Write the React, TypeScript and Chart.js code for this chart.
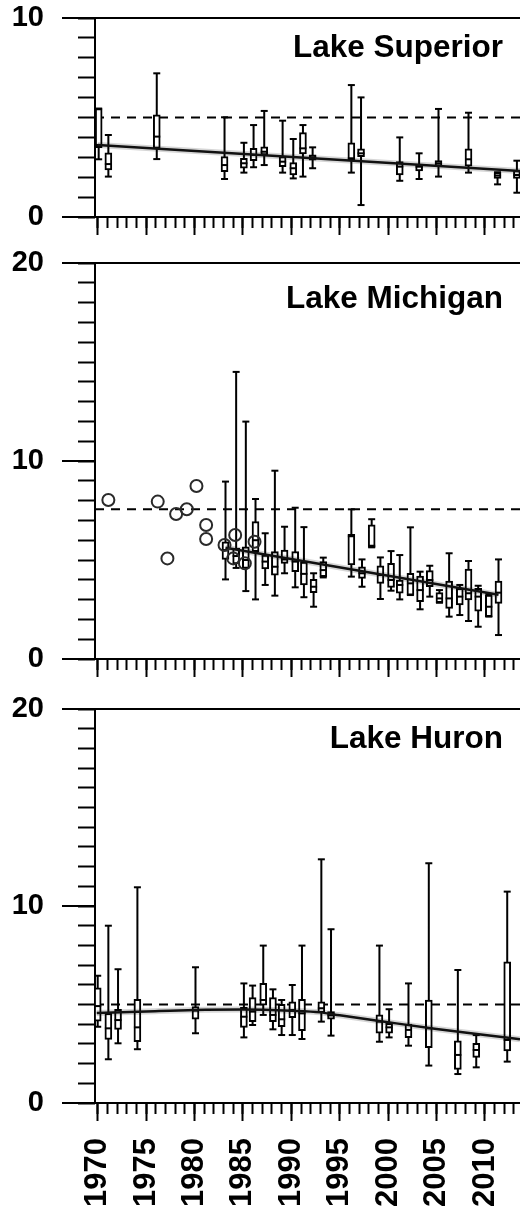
import React, { useEffect, useRef } from 'react';
import { Chart, registerables } from 'chart.js';

Chart.register(...registerables);

const FONT = '"Liberation Sans", Arial, Helvetica, sans-serif';

// Shared time axis (years)
const YEAR_MIN = 1969.72;
const YEAR_MAX = 2013.62;
const YEAR_MAJOR_STEP = 5;
const YEAR_MINOR_STEP = 1;

// ---- Lake Superior: annual box summaries (whisker low, Q1, median, Q3, whisker high)
const SUP_YEAR = [1970.1, 1971.1, 1976.1, 1983.1, 1985.1, 1986.1, 1987.2, 1989.1, 1990.2, 1991.2, 1992.2, 1996.2, 1997.2, 2001.2, 2003.2, 2005.2, 2008.3, 2011.3, 2013.3];
const SUP_LO = [2.9, 2.03, 2.91, 1.91, 2.23, 2.5, 2.61, 2.23, 1.94, 2.03, 2.45, 2.23, 0.6, 1.82, 1.91, 2.03, 2.23, 1.64, 1.22];
const SUP_Q1 = [3.48, 2.36, 3.45, 2.28, 2.45, 2.83, 3.12, 2.53, 2.11, 3.17, 2.86, 2.86, 3.03, 2.11, 2.31, 2.56, 2.56, 1.94, 1.94];
const SUP_MED = [3.62, 2.66, 4.04, 2.61, 2.7, 3.12, 3.28, 2.78, 2.45, 3.45, 3.0, 2.95, 3.2, 2.53, 2.53, 2.7, 2.9, 2.08, 2.11];
const SUP_Q3 = [5.45, 3.23, 5.13, 3.03, 2.95, 3.45, 3.53, 3.03, 2.73, 4.24, 3.12, 3.73, 3.42, 2.78, 2.66, 2.83, 3.42, 2.23, 2.33];
const SUP_HI = [5.45, 4.12, 7.22, 5.01, 3.73, 4.62, 5.33, 4.84, 3.92, 4.62, 3.5, 6.63, 6.01, 4.0, 3.2, 5.43, 5.24, 2.25, 2.83];
const SUP_TREND_YEAR = [1970.0, 2013.62];
const SUP_TREND = [3.62, 2.31];
const SUP_GUIDE = 5.0;

// ---- Lake Michigan
const MICH_YEAR = [1983.2, 1984.3, 1985.3, 1986.3, 1987.3, 1988.3, 1989.3, 1990.4, 1991.3, 1992.3, 1993.3, 1996.2, 1997.3, 1998.3, 1999.2, 2000.3, 2001.2, 2002.3, 2003.3, 2004.3, 2005.3, 2006.3, 2007.4, 2008.3, 2009.3, 2010.4, 2011.4];
const MICH_LO = [4.02, 4.6, 3.43, 3.01, 3.74, 3.2, 4.33, 3.62, 3.12, 2.64, 4.12, 4.16, 3.65, 5.64, 3.03, 3.45, 3.01, 3.23, 2.51, 3.15, 2.84, 2.14, 2.22, 1.92, 1.63, 2.14, 1.21];
const MICH_Q1 = [5.03, 4.8, 4.58, 5.42, 4.55, 4.24, 4.83, 4.41, 3.74, 3.35, 4.16, 4.75, 4.07, 5.64, 3.82, 3.62, 3.32, 3.23, 2.89, 3.65, 2.84, 2.56, 2.73, 2.98, 2.42, 2.14, 2.81];
const MICH_MED = [5.5, 5.2, 5.0, 6.0, 4.92, 4.66, 5.03, 4.92, 4.3, 3.65, 4.49, 6.2, 4.33, 5.72, 4.24, 3.99, 3.74, 3.82, 3.48, 3.99, 3.06, 3.06, 3.15, 3.32, 3.15, 2.64, 3.35];
const MICH_Q3 = [5.92, 5.6, 5.67, 6.94, 5.25, 5.42, 5.5, 5.42, 4.9, 4.03, 4.92, 6.3, 4.66, 6.77, 4.7, 4.83, 3.99, 4.33, 4.19, 4.46, 3.35, 3.94, 3.57, 4.54, 3.57, 3.23, 3.94];
const MICH_HI = [8.96, 14.5, 11.99, 8.08, 6.35, 9.51, 6.68, 7.64, 6.66, 4.33, 5.12, 7.56, 5.03, 7.06, 5.13, 5.45, 5.25, 6.65, 4.41, 4.71, 3.48, 5.34, 3.74, 4.95, 3.7, 3.28, 5.03];
// single historical observations
const MICH_OBS_YEAR = [1971.1, 1976.2, 1977.2, 1978.1, 1979.2, 1980.2, 1981.2, 1981.2, 1983.1, 1984.2, 1984.0, 1985.2, 1986.2];
const MICH_OBS = [8.03, 7.95, 5.08, 7.32, 7.56, 8.74, 6.77, 6.06, 5.76, 6.26, 5.08, 4.83, 5.92];
const MICH_TREND_YEAR = [1983.2, 2011.4];
const MICH_TREND = [5.62, 3.24];
const MICH_GUIDE = 7.56;

// ---- Lake Huron
const HUR_YEAR = [1970.0, 1971.1, 1972.1, 1974.1, 1980.1, 1985.1, 1986.0, 1987.1, 1988.1, 1989.0, 1990.1, 1991.1, 1993.1, 1994.1, 1999.1, 2000.1, 2002.1, 2004.2, 2007.2, 2009.1, 2012.3];
const HUR_LO = [3.87, 2.22, 3.03, 2.73, 3.54, 3.33, 3.96, 4.47, 3.74, 3.45, 3.45, 3.25, 4.13, 3.42, 3.11, 3.33, 2.91, 1.9, 1.47, 1.81, 2.1];
const HUR_Q1 = [4.16, 3.23, 3.74, 3.11, 4.25, 3.84, 4.13, 4.97, 4.13, 3.87, 4.33, 3.67, 4.58, 4.26, 3.54, 3.54, 3.32, 2.81, 1.71, 2.32, 2.64];
const HUR_MED = [4.92, 3.79, 4.21, 3.84, 4.69, 4.38, 4.64, 5.23, 4.47, 4.25, 4.72, 4.55, 4.81, 4.45, 4.13, 3.84, 3.71, 3.79, 2.44, 2.69, 3.2];
const HUR_Q3 = [5.85, 4.55, 4.76, 5.26, 4.89, 4.86, 5.35, 6.07, 5.35, 5.01, 5.14, 5.26, 5.14, 4.64, 4.47, 4.05, 4.01, 5.23, 3.15, 3.03, 7.17];
const HUR_HI = [6.46, 9.0, 6.79, 10.95, 6.89, 6.07, 5.96, 7.99, 5.77, 5.23, 5.99, 7.99, 12.37, 8.82, 7.99, 4.76, 6.07, 12.17, 6.75, 3.45, 10.73];
const HUR_TREND_YEAR = [1969.9, 1975, 1980, 1985, 1990, 1993, 1995, 2000, 2005, 2010, 2013.62];
const HUR_TREND = [4.57, 4.65, 4.72, 4.74, 4.68, 4.6, 4.45, 4.1, 3.76, 3.45, 3.24];
const HUR_GUIDE = 5.0;

const PANELS = [
  {
    title: 'Lake Superior', top: 0, height: 240, padTop: 18, axisHeight: 23, yMax: 10, titleDrop: 39, showYears: false,
    year: SUP_YEAR, lo: SUP_LO, q1: SUP_Q1, med: SUP_MED, q3: SUP_Q3, hi: SUP_HI,
    trendYear: SUP_TREND_YEAR, trend: SUP_TREND, guide: SUP_GUIDE, obsYear: [], obs: [],
  },
  {
    title: 'Lake Michigan', top: 240, height: 440, padTop: 23, axisHeight: 21, yMax: 20, titleDrop: 45, showYears: false,
    year: MICH_YEAR, lo: MICH_LO, q1: MICH_Q1, med: MICH_MED, q3: MICH_Q3, hi: MICH_HI,
    trendYear: MICH_TREND_YEAR, trend: MICH_TREND, guide: MICH_GUIDE, obsYear: MICH_OBS_YEAR, obs: MICH_OBS,
  },
  {
    title: 'Lake Huron', top: 680, height: 534, padTop: 29, axisHeight: 111, yMax: 20, titleDrop: 39, showYears: true,
    year: HUR_YEAR, lo: HUR_LO, q1: HUR_Q1, med: HUR_MED, q3: HUR_Q3, hi: HUR_HI,
    trendYear: HUR_TREND_YEAR, trend: HUR_TREND, guide: HUR_GUIDE, obsYear: [], obs: [],
  },
];

// Writes the lake name in the upper right of the plot area
const panelTitle = {
  id: 'panelTitle',
  afterDraw(chart: any, _args: any, opts: any) {
    const { ctx, chartArea } = chart;
    ctx.save();
    ctx.font = `bold 31.5px ${FONT}`;
    ctx.fillStyle = '#000';
    ctx.textAlign = 'right';
    ctx.textBaseline = 'alphabetic';
    ctx.fillText(opts.text, chartArea.right - 17, chartArea.top + opts.drop);
    ctx.restore();
  },
};

const yTickFont = { family: FONT, size: 29, weight: 'bold' as const };
const xTickFont = { family: FONT, size: 31, weight: 'bold' as const };

function buildConfig(p: any): any {
  const whiskers = p.year.flatMap((x: number, i: number) => [
    { x, y: p.lo[i] },
    { x, y: p.hi[i] },
    { x, y: null },
  ]);
  const boxes = p.year.map((x: number, i: number) => ({ x, y: [p.q1[i], p.q3[i]] }));
  const caps = p.year.flatMap((x: number, i: number) => [
    { x, y: p.lo[i] },
    { x, y: p.hi[i] },
  ]);
  const medians = p.year.map((x: number, i: number) => ({ x, y: p.med[i] }));
  const trend = p.trendYear.map((x: number, i: number) => ({ x, y: p.trend[i] }));
  const guide = [
    { x: YEAR_MIN, y: p.guide },
    { x: YEAR_MAX, y: p.guide },
  ];
  const obs = p.obsYear.map((x: number, i: number) => ({ x, y: p.obs[i] }));

  const axisIds = { xAxisID: 'x', yAxisID: 'y' };

  const datasets: any[] = [
    {
      type: 'line', data: guide, ...axisIds, order: 10,
      borderColor: '#000', borderWidth: 2, borderDash: [9, 7], pointRadius: 0, pointHitRadius: 0,
    },
    {
      type: 'line', data: whiskers, ...axisIds, order: 9, spanGaps: false,
      borderColor: '#000', borderWidth: 2, pointRadius: 0, pointHitRadius: 0,
    },
    {
      type: 'bar', data: boxes, ...axisIds, order: 8,
      backgroundColor: '#fff', borderColor: '#000', borderWidth: 2, borderSkipped: false, barThickness: 7,
    },
    {
      type: 'scatter', data: caps, ...axisIds, order: 7,
      pointStyle: 'line', pointRadius: 3.5, pointBorderWidth: 2, pointBorderColor: '#000', borderColor: '#000', borderWidth: 2,
    },
    {
      type: 'scatter', data: medians, ...axisIds, order: 7,
      pointStyle: 'line', pointRadius: 3.5, pointBorderWidth: 2, pointBorderColor: '#000', borderColor: '#000', borderWidth: 2,
    },
    {
      type: 'line', data: trend, ...axisIds, order: 6, cubicInterpolationMode: 'monotone',
      borderColor: 'rgba(0,0,0,0.16)', borderWidth: 6, pointRadius: 0, pointHitRadius: 0,
    },
    {
      type: 'line', data: trend, ...axisIds, order: 5, cubicInterpolationMode: 'monotone',
      borderColor: '#111', borderWidth: 2.5, pointRadius: 0, pointHitRadius: 0,
    },
  ];
  if (obs.length) {
    datasets.push({
      type: 'scatter', data: obs, ...axisIds, order: 4,
      pointStyle: 'circle', pointRadius: 6, pointBorderWidth: 2, pointBorderColor: '#2a2a2a',
      pointBackgroundColor: 'rgba(0,0,0,0)', borderColor: '#2a2a2a', backgroundColor: 'rgba(0,0,0,0)',
    });
  }

  const yMax = p.yMax;

  return {
    type: 'scatter',
    data: { datasets },
    options: {
      animation: false,
      responsive: false,
      devicePixelRatio: 1,
      events: [],
      layout: { autoPadding: false, padding: { top: p.padTop, left: 0, right: 0, bottom: 0 } },
      plugins: {
        legend: { display: false },
        tooltip: { enabled: false },
        panelTitle: { text: p.title, drop: p.titleDrop },
      },
      scales: {
        x: {
          type: 'linear', position: 'bottom', weight: 1, min: YEAR_MIN, max: YEAR_MAX, offset: false,
          ticks: {
            stepSize: YEAR_MAJOR_STEP, includeBounds: false, autoSkip: false,
            display: p.showYears, minRotation: 90, maxRotation: 90, padding: 17,
            color: '#000', font: xTickFont, callback: (v: number) => String(v),
          },
          grid: { offset: false, drawOnChartArea: false, drawTicks: true, tickLength: 18, tickWidth: 2, tickColor: '#000' },
          border: { display: true, color: '#000', width: 2 },
          afterFit: (s: any) => { s.height = p.axisHeight; s.paddingLeft = 0; s.paddingRight = 0; },
        },
        x2: {
          type: 'linear', position: 'bottom', weight: 0, min: YEAR_MIN, max: YEAR_MAX, offset: false,
          ticks: { stepSize: YEAR_MINOR_STEP, includeBounds: false, display: false },
          grid: { offset: false, drawOnChartArea: false, drawTicks: true, tickLength: 11, tickWidth: 2, tickColor: '#000' },
          border: { display: false },
          afterFit: (s: any) => { s.height = 0; s.paddingLeft = 0; s.paddingRight = 0; },
        },
        y: {
          type: 'linear', position: 'left', weight: 1, min: 0, max: yMax, beginAtZero: false,
          ticks: {
            stepSize: 10, includeBounds: false, padding: 18,
            color: '#000', font: yTickFont, callback: (v: number) => String(v),
          },
          grid: {
            drawOnChartArea: true, drawTicks: true, lineWidth: 2,
            color: (c: any) => (c.tick && c.tick.value === yMax ? '#000' : 'rgba(0,0,0,0)'),
            tickLength: 33, tickWidth: 2, tickColor: '#000',
          },
          border: { display: true, color: '#000', width: 2 },
          afterFit: (s: any) => { s.width = 95; s.paddingTop = 0; s.paddingBottom = 0; },
        },
        y2: {
          type: 'linear', position: 'left', weight: 0, min: 0, max: yMax,
          ticks: { stepSize: 1, includeBounds: false, display: false },
          grid: { drawOnChartArea: false, drawTicks: true, tickLength: 17, tickWidth: 2, tickColor: '#000' },
          border: { display: false },
          afterFit: (s: any) => { s.width = 0; s.paddingTop = 0; s.paddingBottom = 0; },
        },
      },
    },
    plugins: [panelTitle],
  };
}

function Panel({ spec }: { spec: any }) {
  const ref = useRef<HTMLCanvasElement | null>(null);
  useEffect(() => {
    if (!ref.current) return;
    const chart = new Chart(ref.current, buildConfig(spec));
    return () => chart.destroy();
  }, [spec]);
  return (
    <canvas
      ref={ref}
      width={520}
      height={spec.height}
      style={{ position: 'absolute', left: 0, top: spec.top, width: 520, height: spec.height, display: 'block' }}
    />
  );
}

export default function App() {
  return (
    <div style={{ position: 'absolute', left: 0, top: 0, width: 520, height: 1214, background: '#fff', overflow: 'hidden' }}>
      {PANELS.map((p) => (
        <Panel key={p.title} spec={p} />
      ))}
    </div>
  );
}
